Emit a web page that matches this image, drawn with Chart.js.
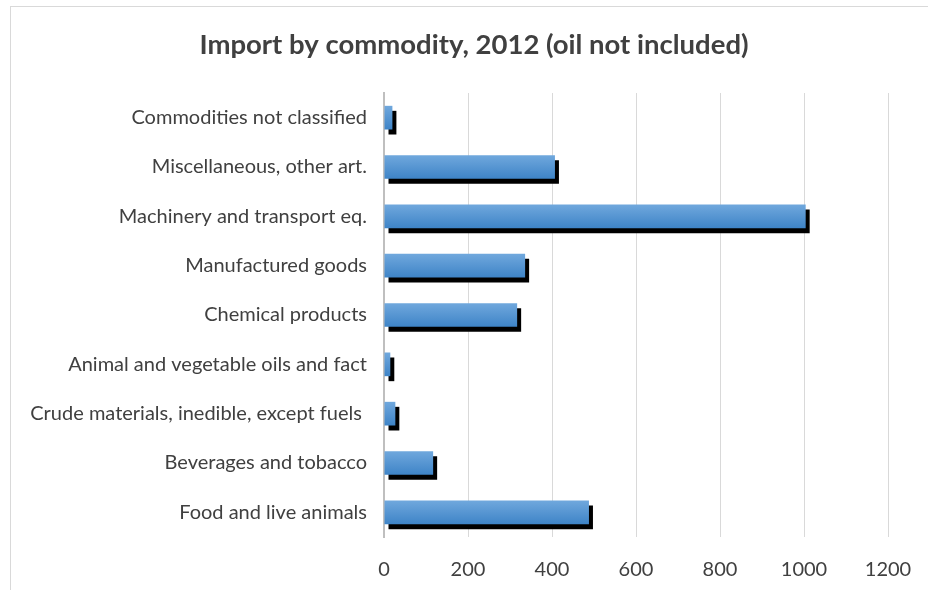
<!DOCTYPE html>
<html>
<head>
<meta charset="utf-8">
<script src="https://cdn.jsdelivr.net/npm/chart.js@4"></script>
<style>
  html,body{margin:0;padding:0;background:#fff;overflow:hidden;}
  #frame{position:absolute;left:10px;top:6px;width:1000px;height:1000px;border:1px solid #d9d9d9;}
  #wrap{position:absolute;left:0;top:0;width:928px;height:590px;}
</style>
</head>
<body>
<div id="frame"></div>
<div id="wrap"><canvas id="chart" width="928" height="590"></canvas></div>
<script>
// data, listed top to bottom as drawn
const categories = [
  'Commodities not classified',
  'Miscellaneous, other art.',
  'Machinery and transport eq.',
  'Manufactured goods',
  'Chemical products',
  'Animal and vegetable oils and fact',
  'Crude materials, inedible, except fuels ',
  'Beverages and tobacco',
  'Food and live animals'
];
const importValues = [20, 407, 1004, 336, 317, 15, 27, 117, 488];
const xTicks = [0, 200, 400, 600, 800, 1000, 1200];
const chartTitle = 'Import by commodity, 2012 (oil not included)';

const FONT = 'Lato, Calibri, Carlito, sans-serif';
const PAD_LEFT = 12;

// gradient per bar, built from the category scale
function barFill(c){
  const chart = c.chart, y = chart.scales.y;
  if(!y || !chart.chartArea) return '#5b9bd5';
  const band = (y.bottom - y.top) / categories.length;
  const half = band * 0.48 / 2;
  const cy = y.getPixelForValue(c.dataIndex);
  const g = chart.ctx.createLinearGradient(0, cy - half, 0, cy + half);
  g.addColorStop(0, '#70a8dd');
  g.addColorStop(1, '#3e84c7');
  return g;
}

// hard black drop shadow behind the bars
const shadowPlugin = {
  id: 'barShadow',
  beforeDatasetDraw(chart){
    const ctx = chart.ctx;
    ctx.save();
    ctx.shadowColor = '#000';
    ctx.shadowOffsetX = 4;
    ctx.shadowOffsetY = 5;
    ctx.shadowBlur = 0;
  },
  afterDatasetDraw(chart){ chart.ctx.restore(); }
};

// title sits a bit right of the canvas centre, as in the source chart
const titlePlugin = {
  id: 'offsetTitle',
  afterDraw(chart){
    const ctx = chart.ctx;
    ctx.save();
    ctx.font = `bold 27.5px ${FONT}`;
    ctx.fillStyle = '#404040';
    ctx.textAlign = 'center';
    ctx.textBaseline = 'middle';
    ctx.fillText(chartTitle, 474, 45);
    ctx.restore();
  }
};

new Chart(document.getElementById('chart'), {
  type: 'bar',
  data: {
    labels: categories,
    datasets: [{
      data: importValues,
      backgroundColor: barFill,
      borderWidth: 0,
      categoryPercentage: 1,
      barPercentage: 0.48
    }]
  },
  plugins: [shadowPlugin, titlePlugin],
  options: {
    indexAxis: 'y',
    responsive: false,
    animation: false,
    layout: { padding: { left: PAD_LEFT, right: 40, top: 93, bottom: 0 } },
    plugins: {
      legend: { display: false },
      tooltip: { enabled: false },
      title: { display: false }
    },
    scales: {
      x: {
        min: 0, max: 1200,
        afterBuildTicks: s => { s.ticks = xTicks.map(v => ({ value: v })); },
        grid: { color: '#d9d9d9', drawTicks: false, lineWidth: 1 },
        border: { display: false },
        ticks: { color: '#404040', font: { family: FONT, size: 20 }, padding: 21, callback: v => String(v) },
        afterFit: s => { s.height = 53; s.paddingLeft = 0; s.paddingRight = 0; }
      },
      y: {
        grid: { display: false, drawTicks: false },
        border: { display: true, color: '#bfbfbf', width: 2 },
        ticks: { color: '#404040', font: { family: FONT, size: 20 }, padding: 17, autoSkip: false },
        afterFit: s => { s.width = 384 - PAD_LEFT; }
      }
    }
  }
});
</script>
</body>
</html>
